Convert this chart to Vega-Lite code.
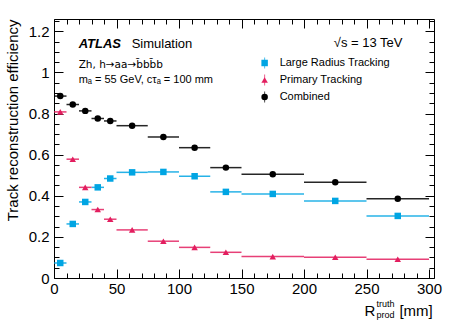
{
  "$schema": "https://vega.github.io/schema/vega-lite/v6.json",
  "width": 380,
  "height": 259,
  "autosize": {"type": "none"},
  "padding": {"left": 54, "top": 19, "right": 23, "bottom": 50},
  "background": "white",
  "config": {
    "font": "Liberation Sans",
    "view": {"stroke": "black", "strokeWidth": 1},
    "axis": {
      "domain": false,
      "grid": false,
      "tickColor": "black",
      "tickWidth": 1,
      "labelColor": "black",
      "labelFont": "Liberation Sans",
      "labelFontSize": 15,
      "labelOverlap": false,
      "labelBound": false,
      "labelFlush": false,
      "titleFont": "Liberation Sans",
      "titleColor": "black",
      "titleFontWeight": "normal"
    }
  },
  "data": {
    "values": [
      {"series": "Large Radius Tracking", "lo": 0, "hi": 10, "x": 5, "eff": 0.073},
      {"series": "Large Radius Tracking", "lo": 10, "hi": 20, "x": 15, "eff": 0.263},
      {"series": "Large Radius Tracking", "lo": 20, "hi": 30, "x": 25, "eff": 0.370},
      {"series": "Large Radius Tracking", "lo": 30, "hi": 40, "x": 35, "eff": 0.441},
      {"series": "Large Radius Tracking", "lo": 40, "hi": 50, "x": 45, "eff": 0.484},
      {"series": "Large Radius Tracking", "lo": 50, "hi": 75, "x": 62.5, "eff": 0.514},
      {"series": "Large Radius Tracking", "lo": 75, "hi": 100, "x": 87.5, "eff": 0.516},
      {"series": "Large Radius Tracking", "lo": 100, "hi": 125, "x": 112.5, "eff": 0.495},
      {"series": "Large Radius Tracking", "lo": 125, "hi": 150, "x": 137.5, "eff": 0.419},
      {"series": "Large Radius Tracking", "lo": 150, "hi": 200, "x": 175, "eff": 0.409},
      {"series": "Large Radius Tracking", "lo": 200, "hi": 250, "x": 225, "eff": 0.375},
      {"series": "Large Radius Tracking", "lo": 250, "hi": 300, "x": 275, "eff": 0.302},
      {"series": "Primary Tracking", "lo": 0, "hi": 10, "x": 5, "eff": 0.808},
      {"series": "Primary Tracking", "lo": 10, "hi": 20, "x": 15, "eff": 0.578},
      {"series": "Primary Tracking", "lo": 20, "hi": 30, "x": 25, "eff": 0.441},
      {"series": "Primary Tracking", "lo": 30, "hi": 40, "x": 35, "eff": 0.333},
      {"series": "Primary Tracking", "lo": 40, "hi": 50, "x": 45, "eff": 0.286},
      {"series": "Primary Tracking", "lo": 50, "hi": 75, "x": 62.5, "eff": 0.234},
      {"series": "Primary Tracking", "lo": 75, "hi": 100, "x": 87.5, "eff": 0.179},
      {"series": "Primary Tracking", "lo": 100, "hi": 125, "x": 112.5, "eff": 0.149},
      {"series": "Primary Tracking", "lo": 125, "hi": 150, "x": 137.5, "eff": 0.125},
      {"series": "Primary Tracking", "lo": 150, "hi": 200, "x": 175, "eff": 0.104},
      {"series": "Primary Tracking", "lo": 200, "hi": 250, "x": 225, "eff": 0.101},
      {"series": "Primary Tracking", "lo": 250, "hi": 300, "x": 275, "eff": 0.091},
      {"series": "Combined", "lo": 0, "hi": 10, "x": 5, "eff": 0.885},
      {"series": "Combined", "lo": 10, "hi": 20, "x": 15, "eff": 0.844},
      {"series": "Combined", "lo": 20, "hi": 30, "x": 25, "eff": 0.813},
      {"series": "Combined", "lo": 30, "hi": 40, "x": 35, "eff": 0.776},
      {"series": "Combined", "lo": 40, "hi": 50, "x": 45, "eff": 0.764},
      {"series": "Combined", "lo": 50, "hi": 75, "x": 62.5, "eff": 0.741},
      {"series": "Combined", "lo": 75, "hi": 100, "x": 87.5, "eff": 0.686},
      {"series": "Combined", "lo": 100, "hi": 125, "x": 112.5, "eff": 0.634},
      {"series": "Combined", "lo": 125, "hi": 150, "x": 137.5, "eff": 0.537},
      {"series": "Combined", "lo": 150, "hi": 200, "x": 175, "eff": 0.505},
      {"series": "Combined", "lo": 200, "hi": 250, "x": 225, "eff": 0.466},
      {"series": "Combined", "lo": 250, "hi": 300, "x": 275, "eff": 0.386}
    ]
  },
  "layer": [
    {
      "mark": {"type": "rule", "strokeWidth": 1.5, "opacity": 0.85},
      "encoding": {
        "x": {
          "field": "lo", "type": "quantitative",
          "scale": {"domain": [0, 304], "nice": false, "zero": false},
          "axis": {
            "orient": "top",
            "values": [0,10,20,30,40,50,60,70,80,90,100,110,120,130,140,150,160,170,180,190,200,210,220,230,240,250,260,270,280,290,300],
            "tickSize": {"condition": {"test": "datum.value % 50 === 0", "value": -9}, "value": -5},
            "labels": false,
            "title": null
          }
        },
        "x2": {"field": "hi"},
        "y": {
          "field": "eff", "type": "quantitative",
          "scale": {"domain": [0, 1.26], "nice": false},
          "axis": {
            "orient": "right",
            "values": [0,0.05,0.1,0.15,0.2,0.25,0.3,0.35,0.4,0.45,0.5,0.55,0.6,0.65,0.7,0.75,0.8,0.85,0.9,0.95,1,1.05,1.1,1.15,1.2,1.25],
            "tickSize": {"condition": {"test": "round(datum.value*100) % 20 === 0", "value": -9}, "value": -5},
            "labels": false,
            "title": null
          }
        },
        "stroke": {
          "field": "series", "type": "nominal",
          "scale": {"domain": ["Large Radius Tracking", "Primary Tracking", "Combined"], "range": ["#00a5e3", "#e31e5f", "#000000"]},
          "legend": null
        }
      }
    },
    {
      "mark": {"type": "point", "filled": true, "size": 42, "opacity": 1},
      "encoding": {
        "x": {
          "field": "x", "type": "quantitative",
          "axis": {
            "orient": "bottom",
            "values": [0,10,20,30,40,50,60,70,80,90,100,110,120,130,140,150,160,170,180,190,200,210,220,230,240,250,260,270,280,290,300],
            "tickSize": {"condition": {"test": "datum.value % 50 === 0", "value": -9}, "value": -5},
            "labelExpr": "datum.value % 50 === 0 ? datum.label : ''",
            "labelPadding": 12,
            "title": null
          }
        },
        "y": {
          "field": "eff", "type": "quantitative",
          "axis": {
            "orient": "left",
            "values": [0,0.05,0.1,0.15,0.2,0.25,0.3,0.35,0.4,0.45,0.5,0.55,0.6,0.65,0.7,0.75,0.8,0.85,0.9,0.95,1,1.05,1.1,1.15,1.2,1.25],
            "tickSize": {"condition": {"test": "round(datum.value*100) % 20 === 0", "value": -9}, "value": -5},
            "labelExpr": "round(datum.value*100) % 20 === 0 ? '' + round(datum.value*10)/10 : ''",
            "labelPadding": 14,
            "title": "Track reconstruction efficiency",
            "titleFontSize": 15,
            "titleAngle": -90,
            "titleX": -42,
            "titleY": 0,
            "titleAlign": "right",
            "titleBaseline": "middle"
          }
        },
        "color": {
          "field": "series", "type": "nominal",
          "scale": {"domain": ["Large Radius Tracking", "Primary Tracking", "Combined"], "range": ["#00a5e3", "#e31e5f", "#000000"]},
          "legend": null
        },
        "shape": {
          "field": "series", "type": "nominal",
          "scale": {"domain": ["Large Radius Tracking", "Primary Tracking", "Combined"], "range": ["square", "triangle-up", "circle"]},
          "legend": null
        }
      }
    },
    {
      "data": {"values": [{"series": "Large Radius Tracking"}]},
      "encoding": {"y": {"datum": 1.046, "type": "quantitative", "axis": null}},
      "layer": [
        {"mark": {"type": "tick", "orient": "vertical", "size": 11, "thickness": 1},
         "encoding": {"x": {"datum": 168.5, "type": "quantitative", "axis": null}, "color": {"field": "series", "type": "nominal", "legend": null}}},
        {"mark": {"type": "point", "filled": true, "size": 42, "opacity": 1},
         "encoding": {"x": {"datum": 168.5, "type": "quantitative", "axis": null}, "color": {"field": "series", "type": "nominal", "legend": null}, "shape": {"field": "series", "type": "nominal", "legend": null}}},
        {"mark": {"type": "text", "font": "Liberation Sans", "fontSize": 11, "align": "left", "baseline": "middle", "color": "black"},
         "encoding": {"x": {"datum": 180.5, "type": "quantitative", "axis": null}, "text": {"field": "series"}}}
      ]
    },
    {
      "data": {"values": [{"series": "Primary Tracking"}]},
      "encoding": {"y": {"datum": 0.963, "type": "quantitative", "axis": null}},
      "layer": [
        {"mark": {"type": "tick", "orient": "vertical", "size": 11, "thickness": 1},
         "encoding": {"x": {"datum": 168.5, "type": "quantitative", "axis": null}, "color": {"field": "series", "type": "nominal", "legend": null}}},
        {"mark": {"type": "point", "filled": true, "size": 42, "opacity": 1},
         "encoding": {"x": {"datum": 168.5, "type": "quantitative", "axis": null}, "color": {"field": "series", "type": "nominal", "legend": null}, "shape": {"field": "series", "type": "nominal", "legend": null}}},
        {"mark": {"type": "text", "font": "Liberation Sans", "fontSize": 11, "align": "left", "baseline": "middle", "color": "black"},
         "encoding": {"x": {"datum": 180.5, "type": "quantitative", "axis": null}, "text": {"field": "series"}}}
      ]
    },
    {
      "data": {"values": [{"series": "Combined"}]},
      "encoding": {"y": {"datum": 0.880, "type": "quantitative", "axis": null}},
      "layer": [
        {"mark": {"type": "tick", "orient": "vertical", "size": 11, "thickness": 1},
         "encoding": {"x": {"datum": 168.5, "type": "quantitative", "axis": null}, "color": {"field": "series", "type": "nominal", "legend": null}}},
        {"mark": {"type": "point", "filled": true, "size": 42, "opacity": 1},
         "encoding": {"x": {"datum": 168.5, "type": "quantitative", "axis": null}, "color": {"field": "series", "type": "nominal", "legend": null}, "shape": {"field": "series", "type": "nominal", "legend": null}}},
        {"mark": {"type": "text", "font": "Liberation Sans", "fontSize": 11, "align": "left", "baseline": "middle", "color": "black"},
         "encoding": {"x": {"datum": 180.5, "type": "quantitative", "axis": null}, "text": {"field": "series"}}}
      ]
    },
    {
      "data": {"values": [{}]},
      "mark": {"type": "text", "text": "ATLAS", "font": "Liberation Sans", "fontSize": 13, "fontWeight": "bold", "fontStyle": "italic", "align": "left", "baseline": "alphabetic", "color": "black"},
      "encoding": {"x": {"datum": 19.7, "type": "quantitative", "axis": null}, "y": {"datum": 1.117, "type": "quantitative", "axis": null}}
    },
    {
      "data": {"values": [{}]},
      "mark": {"type": "text", "text": "Simulation", "font": "Liberation Sans", "fontSize": 13, "align": "left", "baseline": "alphabetic", "color": "black"},
      "encoding": {"x": {"datum": 62.1, "type": "quantitative", "axis": null}, "y": {"datum": 1.117, "type": "quantitative", "axis": null}}
    },
    {
      "data": {"values": [{}]},
      "mark": {"type": "text", "text": "Zh, h→aa→b̄bb̄b", "font": "DejaVu Sans", "fontSize": 10.5, "align": "left", "baseline": "alphabetic", "color": "black"},
      "encoding": {"x": {"datum": 19.7, "type": "quantitative", "axis": null}, "y": {"datum": 1.020, "type": "quantitative", "axis": null}}
    },
    {
      "data": {"values": [{}]},
      "mark": {"type": "text", "text": "mₐ = 55 GeV, cτₐ = 100 mm", "font": "Liberation Sans", "fontSize": 11, "align": "left", "baseline": "alphabetic", "color": "black"},
      "encoding": {"x": {"datum": 19.7, "type": "quantitative", "axis": null}, "y": {"datum": 0.947, "type": "quantitative", "axis": null}}
    },
    {
      "data": {"values": [{}]},
      "mark": {"type": "text", "text": "√s = 13 TeV", "font": "Liberation Sans", "fontSize": 13, "align": "right", "baseline": "alphabetic", "color": "black"},
      "encoding": {"x": {"datum": 278.8, "type": "quantitative", "axis": null}, "y": {"datum": 1.122, "type": "quantitative", "axis": null}}
    },
    {
      "data": {"values": [{}]},
      "mark": {"type": "text", "text": "R", "font": "Liberation Sans", "fontSize": 15, "align": "left", "baseline": "alphabetic", "color": "black"},
      "encoding": {"x": {"datum": 248.4, "type": "quantitative", "axis": null}, "y": {"datum": -0.185, "type": "quantitative", "axis": null}}
    },
    {
      "data": {"values": [{}]},
      "mark": {"type": "text", "text": "truth", "font": "Liberation Sans", "fontSize": 9, "align": "left", "baseline": "alphabetic", "color": "black"},
      "encoding": {"x": {"datum": 258.0, "type": "quantitative", "axis": null}, "y": {"datum": -0.143, "type": "quantitative", "axis": null}}
    },
    {
      "data": {"values": [{}]},
      "mark": {"type": "text", "text": "prod", "font": "Liberation Sans", "fontSize": 9, "align": "left", "baseline": "alphabetic", "color": "black"},
      "encoding": {"x": {"datum": 258.0, "type": "quantitative", "axis": null}, "y": {"datum": -0.195, "type": "quantitative", "axis": null}}
    },
    {
      "data": {"values": [{}]},
      "mark": {"type": "text", "text": "[mm]", "font": "Liberation Sans", "fontSize": 15, "align": "right", "baseline": "alphabetic", "color": "black"},
      "encoding": {"x": {"datum": 303.0, "type": "quantitative", "axis": null}, "y": {"datum": -0.185, "type": "quantitative", "axis": null}}
    }
  ]
}
